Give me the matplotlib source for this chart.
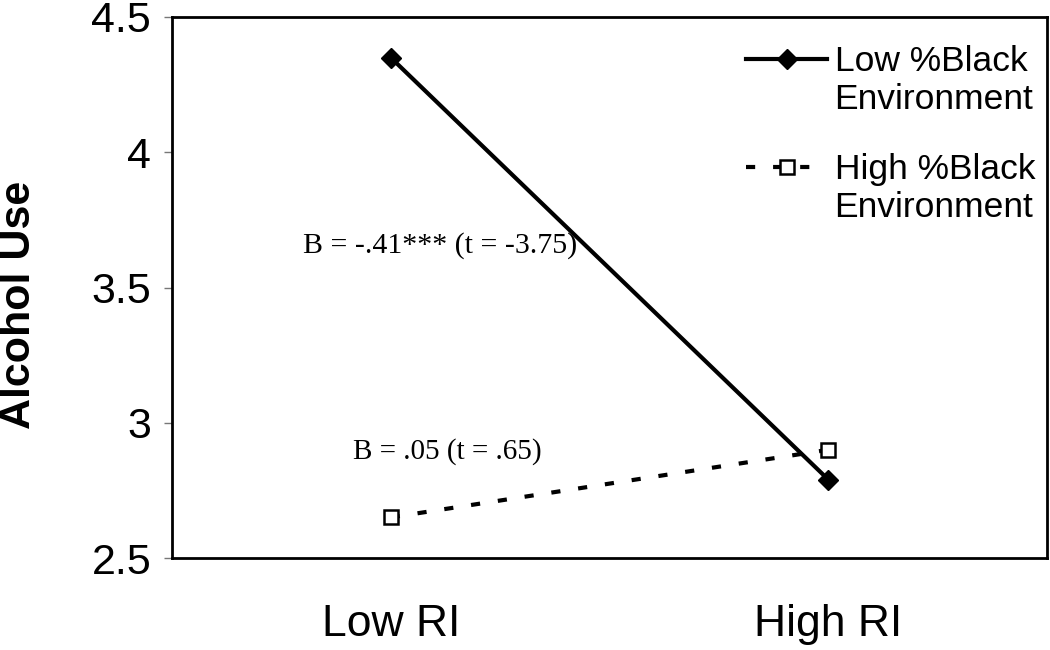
"""Alcohol use by racial identity (RI) and %Black environment: interaction plot."""

import matplotlib

matplotlib.use("Agg")
from matplotlib import pyplot as plt
from matplotlib.lines import Line2D

categories = ["Low RI", "High RI"]
low_black = [4.35, 2.79]
high_black = [2.65, 2.90]
series_names = [("Low %Black", "Environment"), ("High %Black", "Environment")]
yticks = [2.5, 3, 3.5, 4, 4.5]
ytick_labels = ["2.5", "3", "3.5", "4", "4.5"]
note_low = "B = -.41*** (t = -3.75)"
note_high = "B = .05 (t = .65)"

plt.rcParams["font.family"] = ["Liberation Sans", "DejaVu Sans"]
serif = ["Liberation Serif", "DejaVu Serif"]

fig = plt.figure(figsize=(10.5, 6.5), dpi=100)
ax = fig.add_axes([172 / 1050, 1 - 558 / 650, 875 / 1050, 541 / 650])

x = list(range(len(categories)))
(solid_line,) = ax.plot(x, low_black, color="black", lw=3, marker="D", markersize=10,
                        markerfacecolor="black", markeredgecolor="black")
(dash_line,) = ax.plot(x, high_black, color="black", lw=3, marker="s", markersize=10,
                       markerfacecolor="white", markeredgecolor="black",
                       markeredgewidth=1.8)
dash_line.set_dashes((2.2, 4.3))

ax.set_xlim(-0.5, 1.5)
ax.set_ylim(2.5, 4.5)
ax.set_xticks(x)
ax.set_xticklabels(categories, fontsize=32)
ax.set_yticks(yticks)
ax.set_yticklabels(ytick_labels, fontsize=31)
ax.tick_params(axis="x", length=0, pad=33)
ax.tick_params(axis="y", length=6, width=1, color="#777777", pad=9)
for spine in ax.spines.values():
    spine.set_linewidth(2)
    spine.set_color("black")

ax.set_ylabel("Alcohol Use", fontsize=31, fontweight="bold")
ax.yaxis.set_label_coords(-0.152, 0.468)

ax.text(-0.201, 3.655, note_low, fontsize=21.5, family=serif, va="center", ha="left")
ax.text(-0.087, 2.895, note_high, fontsize=21, family=serif, va="center", ha="left")

# one legend block per series so the handle sits beside the first text line
blank = Line2D([], [], color="none")
for (line, (top, bottom)), y_anchor in zip(
    [(solid_line, series_names[0]), (dash_line, series_names[1])], [45, 153]
):
    fig.legend([line, blank], [top, bottom], loc="upper left",
               bbox_to_anchor=(746 / 1050, 1 - y_anchor / 650), frameon=False,
               fontsize=25.5, handlelength=2.3, handletextpad=0.2,
               borderpad=0, borderaxespad=0, labelspacing=0.15)

fig.savefig("out.png", dpi=100)
